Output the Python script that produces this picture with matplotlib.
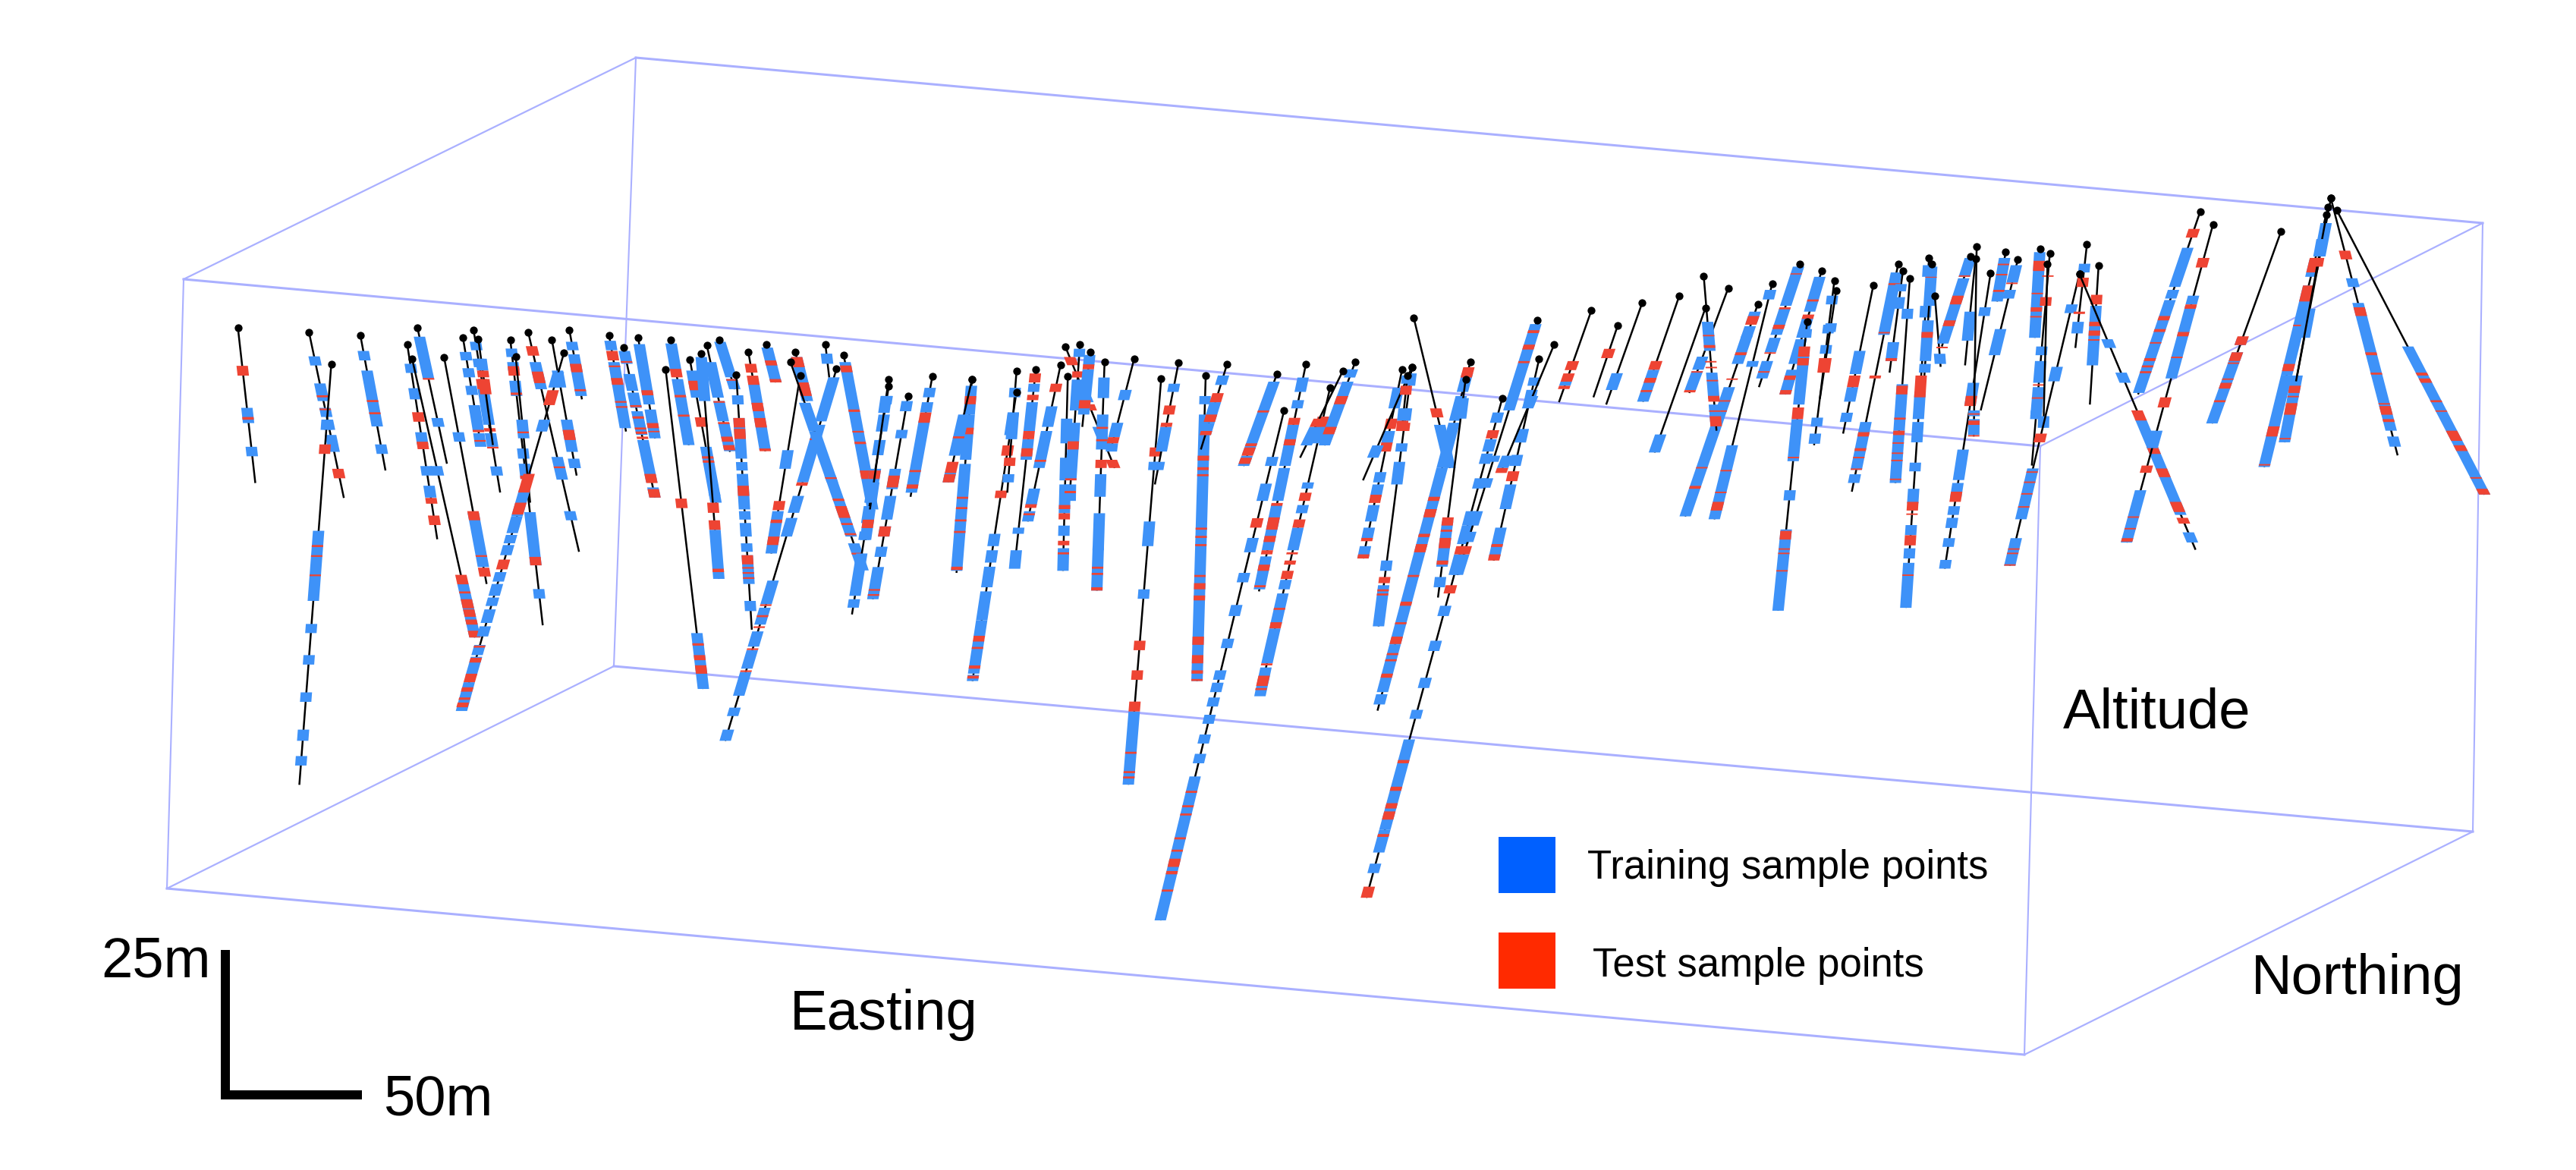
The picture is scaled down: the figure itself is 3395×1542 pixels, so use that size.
import matplotlib
matplotlib.use('Agg')
import matplotlib.pyplot as plt
import numpy as np

plt.rcParams['font.family'] = ['Liberation Sans', 'DejaVu Sans']

# box edges, picture pixels (front/back, top/bottom, left/right)
box_ftl = (242, 368)
box_btl = (838, 76)
box_ftr = (2689, 588)
box_btr = (3272, 294)
box_fbl = (220, 1171)
box_bbl = (809, 878)
box_fbr = (2668, 1390)
box_bbr = (3259, 1096)

# drill holes, read off three crops: each group has its own offset and scale
# west part of the picture
west_tops = [(178,183),(325,197),(371,291),(431,205),(549,183),(528,233),(538,275),(604,270),
             (643,212),(665,190),(675,218),(778,197),(741,220),(752,268),(827,220),(863,190),
             (852,257),(945,205),(975,242),(1005,212),(1062,307),(1072,220),(1112,277),(1135,260),
             (1173,220),(1147,235),(1208,322),(1233,256),(1270,233),(1415,305),(1340,325),(1330,255),
             (1320,285),(1430,265),(1523,357),(1563,385),(1523,335),(1392,232)]
west_ends = [(214,642),(397,686),(305,1533),(483,605),(610,585),(590,808),(668,1098),(692,940),
             (680,530),(720,670),(705,530),(883,845),(808,1062),(782,700),(878,620),(889,395),
             (640,1310),(980,490),(1040,685),(1040,510),(1140,1250),(1110,530),(1168,715),(1172,925),
             (1205,365),(1195,550),(1240,1075),(1268,548),(1290,345),(1185,1403),(1280,850),(1355,400),
             (1470,900),(1490,720),(1447,1030),(1490,985),(1475,810),(1400,330)]
west_train = [[(420,465),(535,563)],
              [(268,295),(348,400),(420,447),(455,485),(500,550)],
              [(455,485),(783,990),(1058,1085),(1150,1178),(1260,1288),(1370,1403),(1448,1476)],
              [(252,280),(310,475),(528,556)],
              [(210,335),(450,476)],
              [(290,317),(362,395),(492,528),(592,620),(650,685)],
              [(592,620),(940,1098)],
              [(492,520),(730,890)],
              [(255,280),(303,330),(355,382),(412,490),(495,535)],
              [(225,250),(275,300),(365,470),(495,535),(593,620)],
              [(275,310)],
              [(285,365),(565,632),(725,752)],
              [(245,270),(285,310),(340,385),(540,570),(585,630),(728,885),(955,983)],
              [(455,510)],
              [(310,360),(455,550),(570,598)],
              [(225,250),(262,385)],
              [(315,360),(455,490),(660,740),(740,790),(795,820),(825,855),(905,933),(940,975),(980,1005),
               (1015,1055),(1065,1095),(1120,1150),(1155,1210),(1230,1315)],
              [(222,250),(285,480)],
              [(252,290),(320,370),(375,420),(430,500),(515,640),(655,685)],
              [(232,410),(425,510)],
              [(1085,1250)],
              [(230,310),(335,530)],
              [(310,390),(535,680),(670,700)],
              [(270,400),(780,925)],
              [(225,330),(335,365)],
              [(285,390),(400,460),(465,548)],
              [(383,410),(450,570),(580,605),(615,720),(725,750),(760,800),(820,845),(855,940),(990,1020)],
              [(350,410),(415,545)],
              [(242,345)],
              [(330,460),(470,640),(680,730),(745,800),(930,1000),(1010,1060),(1080,1125),(1135,1190),
               (1200,1270),(1305,1330),(1370,1403)],
              [(545,600),(725,850)],
              [(270,400)],
              [(405,490),(490,640),(620,800),(820,900)],
              [(285,430),(430,720)],
              [(385,410),(440,490),(515,560),(600,700),(710,760),(785,810),(850,975),(985,1010)],
              [(400,430),(485,510),(600,660),(680,750),(770,800),(830,860),(890,985)],
              [(385,435),(640,700),(720,810)],
              [(260,290)]]
west_test = [[(296,325),(447,455)],
             [(383,389),(422,427),(600,628)],
             [(528,556),(825,831),(855,860),(912,917)],
             [(397,403),(433,439)],
             [(332,337)],
             [(433,461),(520,542),(686,703),(738,766)],
             [(913,941),(962,968),(985,1012),(1015,1037),(1045,1060),(1078,1098)],
             [(725,752),(855,860),(892,918)],
             [(485,492),(515,520)],
             [(335,365),(480,490),(535,540)],
             [(310,330),(335,380)],
             [(238,266),(313,347),(593,598)],
             [(297,325),(375,382),(620,630),(860,885)],
             [(490,495)],
             [(485,515)],
             [(290,315),(365,371)],
             [(368,412),(615,670),(700,735),(868,897),(1122,1128),(1158,1172),(1205,1230),(1245,1258),(1275,1282),(1290,1304)],
             [(252,280),(295,300),(332,352),(400,405),(415,420)],
             [(282,287),(412,418),(445,452),(478,484),(490,497),(505,512),(615,642),(660,685)],
             [(368,383),(465,480),(488,492)],
             [(688,716),(1115,1122),(1150,1165),(1180,1205)],
             [(305,330),(382,389),(440,446)],
             [(340,368),(448,476),(563,570),(575,582)],
             [(700,730),(752,780),(895,905)],
             [(335,340)],
             [(400,405),(462,468),(505,520),(530,545)],
             [(450,478),(482,512),(650,680),(855,882),(890,895),(905,910),(920,925)],
             [(290,316),(325,352),(405,430),(450,478),(540,548)],
             [(280,295),(335,345)],
             [(510,515),(640,650),(1000,1005),(1032,1038),(1065,1070),(1130,1135),(1195,1200)],
             [(695,722),(750,760),(800,825)],
             [(270,300),(345,385)],
             [(625,630),(688,695),(710,745),(760,766),(790,796),(848,853)],
             [(295,315),(425,432),(488,493),(520,527),(605,630)],
             [(605,630)],
             [(620,655),(770,800),(955,960),(970,975)],
             [(750,775)],
             []]

# middle part
mid_tops = [(45,178),(127,185),(127,185),(219,215),(219,165),(259,160),(310,150),(325,178),
            (320,105),(350,100),(371,118),(401,142),(462,135),(518,183),(554,143),(610,175),
            (654,148),(757,172),(772,260),(817,148),(867,205),(919,142),(893,165),(1157,142),
            (1036,155),(1016,160),(1036,155),(1027,175),(1040,35),(1147,185),(1223,230),(1299,135),
            (1330,100),(1295,40),(1407,17)]
mid_ends = [(0,470),(95,655),(78,435),(128,918),(200,460),(215,640),(242,530),(315,650),
            (422,400),(330,450),(355,300),(385,698),(415,350),(450,1170),(505,440),(592,918),
            (600,355),(688,395),(516,1500),(720,700),(722,950),(855,345),(805,375),(965,990),
            (967,785),(935,620),(935,430),(1015,310),(1115,400),(1090,715),(942,1445),(1205,625),
            (1220,410),(1130,660),(1340,240)]
mid_train = [[(205,228),(240,265),(285,460)],
             [(200,270),(270,380),(390,650)],
             [(270,370),(410,435)],
             [(265,320),(560,590),(600,630),(640,690),(700,770),(770,810),(820,900),(903,918)],
             [(205,228),(265,330),(415,435)],
             [(195,215),(240,310),(330,380),(545,560),(600,645)],
             [(250,300),(310,400),(450,490),(505,530)],
             [(280,340),(375,430),(440,510),(540,565),(595,650)],
             [(215,240),(300,350)],
             [(110,130),(185,260),(290,345),(345,430),(440,480)],
             [(125,150),(160,270)],
             [(180,230),(270,355),(415,470),(510,600),(590,698)],
             [(210,235),(290,325),(340,360)],
             [(385,405),(530,590),(695,718),(992,1170)],
             [(195,215),(300,360),(385,405)],
             [(225,245),(270,918)],
             [(175,198),(240,290),(290,320)],
             [(190,365),(370,395)],
             [(373,395),(438,480),(570,605),(655,678),(733,760),(815,838),(892,915),(922,945),(958,980),
              (1000,1022),(1048,1070),(1095,1118),(1150,1500)],
             [(180,215),(235,255),(295,395),(400,480),(490,600),(615,695)],
             [(275,340),(435,450),(490,510),(545,600),(672,695),(705,780),(790,875),(885,955)],
             [(160,180),(190,345)],
             [(300,345)],
             [(170,215),(225,285),(290,400),(400,600),(600,830),(830,945),(950,975)],
             [(170,200),(255,285),(340,360),(385,440),(625,650),(685,785)],
             [(205,255),(310,340),(410,435),(440,470),(490,530),(545,575),(590,620)],
             [(345,375)],
             [(175,195),(255,285)],
             [(295,400)],
             [(230,280),(530,640),(665,690)],
             [(265,290),(330,360),(365,390),(425,450),(505,540),(540,585),(610,660),(735,760),(820,845),
              (910,935),(988,1010),(1060,1280),(1280,1335),(1362,1385)],
             [(180,200),(210,250),(305,338),(368,395),(440,500),(545,620)],
             [(225,255),(370,400)],
             [(50,260),(370,385),(425,448),(505,540),(555,580),(610,660)],
             [(190,200)]]
mid_test = [[(265,290),(405,410),(440,450)],
            [(225,245),(302,318),(470,475),(495,500),(525,530),(553,558),(640,648)],
            [(323,328),(385,412),(415,435)],
            [(345,370),(455,473),(808,822),(835,840),(880,888),(905,912)],
            [(375,395)],
            [(170,192),(222,235),(310,330),(352,372)],
            [(195,215),(380,385),(488,497),(510,515)],
            [(490,500),(510,525),(577,588),(605,610)],
            [(130,150),(245,260),(380,400)],
            [(165,180),(335,355),(425,430),(455,462)],
            [(148,160),(235,255)],
            [(300,305),(330,335),(380,400),(640,645),(655,660),(690,698)],
            [(325,340)],
            [(350,372),(820,843),(892,915),(968,992),(1090,1095),(1137,1142),(1150,1155)],
            [(248,270),(290,300)],
            [(370,382),(398,405),(415,420),(545,550),(565,570),(585,590),(660,665),(680,695),(710,722),
             (810,830),(855,875),(892,900),(913,918)],
            [(218,240),(270,288),(310,320)],
            [(260,265),(340,347),(350,370),(375,390)],
            [(522,545),(1185,1190),(1220,1225),(1240,1245),(1298,1303),(1328,1333),(1350,1370),(1380,1388),(1425,1430)],
            [(278,295),(330,345),(485,492),(520,550),(565,580),(600,610),(635,650),(685,690)],
            [(275,300),(460,480),(525,545),(605,610),(625,635),(650,670),(740,745),(775,790),(875,880),(905,930),(935,940)],
            [(225,245),(300,318)],
            [(280,300)],
            [(155,180),(470,480),(500,520),(560,568),(585,605),(660,665),(725,735),(775,780),(810,828),(850,855),(865,870),(900,910)],
            [(290,310),(665,680),(695,700),(705,710)],
            [(280,305),(338,360),(465,485),(570,578),(610,620)],
            [],
            [(200,222),(285,310)],
            [(255,277)],
            [(520,540),(550,555),(570,595),(625,635)],
            [(308,328),(590,610),(685,705),(1110,1118),(1175,1185),(1215,1228),(1235,1255),(1290,1297),(1418,1445)],
            [(408,432),(585,592),(610,625)],
            [(400,412)],
            [(65,72),(100,112),(140,145),(590,610)],
            [(140,162),(170,190),(200,208)]]

# east part
east_tops = [(42,467),(84,390),(148,365),(193,407),(283,395),(308,323),(232,340),(190,297),
             (355,255),(393,280),(415,313),(368,455),(418,348),(482,330),(525,255),(533,280),
             (545,305),(578,235),(583,255),(588,365),(650,230),(658,238),(684,288),(660,195),
             (710,215),(731,240),(769,205),(786,220),(782,255),(837,290),(850,187),(870,262),
             (837,290),(1045,75),(1067,120),(1184,145),(1262,85),(1270,30),(1265,60),(1270,30),(1280,70)]
east_ends = [(0,715),(22,740),(85,730),(105,905),(158,1125),(208,1135),(165,700),(212,830),
             (285,680),(330,705),(380,880),(318,1450),(390,720),(430,840),(445,1040),(510,630),
             (520,1010),(538,1440),(570,640),(598,610),(600,540),(640,605),(605,1305),(655,850),
             (695,385),(667,760),(760,510),(755,950),(775,820),(717,1295),(830,545),(855,740),
             (1037,1240),(938,705),(918,1215),(1065,805),(1155,955),(1190,870),(1210,660),(1385,915),(1535,1050)]
east_train = [[],
              [(632,690)],
              [(620,730)],
              [(843,905)],
              [(420,460),(470,510),(500,600),(680,1125)],
              [(345,378),(590,610),(880,1135)],
              [(575,620),(625,690)],
              [(455,555),(630,720),(740,800)],
              [(265,400),(410,500),(510,560),(590,650)],
              [(300,420),(440,510),(515,600),(620,705)],
              [(365,395),(465,495),(535,565),(785,815),(840,875)],
              [(480,510),(570,740),(790,935),(1035,1070),(1170,1450)],
              [(460,490)],
              [(555,635),(680,730),(768,800)],
              [(285,500),(800,965),(980,1010)],
              [(325,350),(370,410),(525,590)],
              [(410,445),(670,830),(830,1010)],
              [(260,300),(400,440),(695,790),(800,870),(940,970),(1030,1080),(1155,1190),(1235,1270),(1285,1440)],
              [(265,400),(450,590),(600,630)],
              [(565,600)],
              [(235,300),(305,530)],
              [(420,520)],
              [(405,435),(665,740),(895,1000),(1010,1060),(1090,1120),(1130,1165),(1200,1230),(1275,1305)],
              [(760,780),(790,845)],
              [(235,385)],
              [(260,320),(345,375),(480,570)],
              [(215,510)],
              [(540,570),(590,665),(680,780),(760,790)],
              [(780,820)],
              [(395,425),(610,660),(960,1135),(1200,1295)],
              [(255,285),(455,495)],
              [(400,605)],
              [(515,545),(630,665),(790,1120),(1180,1215)],
              [(200,335),(345,375),(380,700)],
              [(365,395),(400,650),(830,890),(1035,1215)],
              [(510,535),(560,805)],
              [(240,300),(330,640),(640,955)],
              [(115,230),(410,510),(640,870)],
              [(170,230)],
              [(305,335),(390,830),(850,885)],
              [(540,1050)]]
east_test = [[(548,580)],
             [],
             [(590,620),(648,665),(690,697)],
             [],
             [(435,465),(560,570),(650,655),(725,730),(760,765),(955,960),(1020,1030)],
             [(965,970),(1040,1045),(1075,1105)],
             [(625,630),(690,698)],
             [(500,505),(535,545),(590,595),(610,615),(655,660),(710,730),(760,765),(780,815)],
             [(288,292),(405,412),(465,480),(560,565),(625,630)],
             [(378,385),(430,445),(640,655),(690,705)],
             [(580,630)],
             [(540,575),(580,605),(750,790),(920,925),(1175,1205),(1235,1240),(1250,1255),(1310,1315)],
             [(580,630)],
             [(640,680)],
             [(322,328),(490,495),(640,650),(835,850),(890,900),(920,925),(960,965)],
             [(580,590)],
             [(675,705),(785,792),(830,845),(870,875),(905,910),(930,935),(995,1000)],
             [(640,715),(1075,1105),(1115,1120),(1190,1225),(1325,1330)],
             [(300,303),(490,510)],
             [],
             [(295,300),(365,395),(450,470),(540,545)],
             [],
             [(710,745),(1040,1075)],
             [(770,775),(795,810),(845,850)],
             [(255,260),(290,295),(345,352)],
             [(320,325)],
             [(245,280),(355,360),(405,420),(435,440)],
             [(295,300),(370,400),(670,675),(715,720)],
             [],
             [(840,870),(970,975),(1005,1010),(1045,1050),(1090,1095),(1235,1240),(1250,1255),(1290,1295)],
             [(303,335),(420,428)],
             [(362,395),(455,470),(485,503),(515,520)],
             [(760,795),(885,910),(960,990),(1075,1110),(1130,1150)],
             [(135,165),(435,450),(480,490),(525,530),(580,590),(605,612),(625,632)],
             [(235,268),(395,410),(490,505),(575,580),(715,750),(950,975),(1125,1130),(1165,1170),(1200,1212)],
             [(505,535),(560,590),(595,600),(650,655),(665,685),(725,732)],
             [(235,285),(330,385),(465,470),(600,625),(815,850),(945,950)],
             [(675,700),(710,715),(735,755),(755,775),(855,860)],
             [(235,265)],
             [(210,240),(405,435),(560,570),(630,637),(735,740),(745,775),(790,800)],
             [(630,640),(650,665),(725,732),(760,765),(830,865),(880,900),(990,995),(1030,1050)]]

# crop origin and crop scale of each group
groups = [(west_tops, west_ends, west_train, west_test, 200, 350, 1.568, 2.24),
          (mid_tops, mid_ends, mid_train, mid_test, 1200, 400, 1.568, 1.845),
          (east_tops, east_ends, east_train, east_test, 2100, 250, 1.3067, 2.613)]

train_color = '#3e92f8'
test_color = '#ee4433'
frame_color = '#aab0ff'
half_w = 7.5

fig = plt.figure(figsize=(33.95, 15.42), dpi=100)
ax = fig.add_axes([0, 0, 1, 1])
ax.set_xlim(0, 3395)
ax.set_ylim(1542, 0)
ax.axis('off')


def edge(p, q, lw):
    ax.plot([p[0], q[0]], [p[1], q[1]], color=frame_color, lw=lw, zorder=1)


# box
for p, q in [(box_ftl, box_ftr), (box_fbl, box_fbr), (box_btl, box_btr), (box_bbl, box_bbr)]:
    edge(p, q, 2.2)
for p, q in [(box_ftl, box_btl), (box_ftr, box_btr), (box_fbl, box_bbl), (box_fbr, box_bbr)]:
    edge(p, q, 1.6)
for p, q in [(box_ftl, box_fbl), (box_btl, box_bbl), (box_ftr, box_fbr), (box_btr, box_bbr)]:
    edge(p, q, 1.5)


def run(ya, yb, xs, ys, y0, sy, color, z):
    # one stretch of a hole, flat top and bottom like the stacked sample cubes
    a = y0 + ya / sy
    b = y0 + yb / sy
    xa = np.interp(a, ys, xs)
    xb = np.interp(b, ys, xs)
    ax.fill([xa - half_w, xa + half_w, xb + half_w, xb - half_w], [a, a, b, b],
            color=color, lw=0, zorder=z)


collar_x, collar_y = [], []
z = 2.0
for tops, ends, train, test, x0, y0, sx, sy in groups:
    assert len(tops) == len(ends) == len(train) == len(test)
    for top, end, tr, te in zip(tops, ends, train, test):
        xs = [x0 + top[0] / sx, x0 + end[0] / sx]
        ys = [y0 + top[1] / sy, y0 + end[1] / sy]
        ax.plot(xs, ys, color='black', lw=1.8, zorder=z, solid_capstyle='butt')
        for ya, yb in tr:
            run(ya, yb, xs, ys, y0, sy, train_color, z)
        for ya, yb in te:
            run(ya, yb, xs, ys, y0, sy, test_color, z)
        collar_x.append(xs[0])
        collar_y.append(ys[0])
        z += 0.01

ax.scatter(collar_x, collar_y, s=55, color='black', lw=0, zorder=z + 1)

# scale bar
ax.fill([291, 303, 303, 291], [1252, 1252, 1449, 1449], color='black', lw=0, zorder=z)
ax.fill([291, 477, 477, 291], [1437, 1437, 1449, 1449], color='black', lw=0, zorder=z)

big = 53.5
ax.text(133, 1287, '25m', fontsize=big, ha='left', va='baseline')
ax.text(505, 1469, '50m', fontsize=big, ha='left', va='baseline')
ax.text(1041, 1357, 'Easting', fontsize=big, ha='left', va='baseline')
ax.text(2719, 960, 'Altitude', fontsize=big, ha='left', va='baseline')
ax.text(2967, 1310, 'Northing', fontsize=big, ha='left', va='baseline')

# legend, drawn by hand as in the original
ax.fill([1975, 2050, 2050, 1975], [1103, 1103, 1177, 1177], color='#0060ff', lw=0, zorder=z)
ax.fill([1975, 2050, 2050, 1975], [1229, 1229, 1303, 1303], color='#ff2a00', lw=0, zorder=z)
ax.text(2092, 1158, 'Training sample points', fontsize=38, ha='left', va='baseline')
ax.text(2099, 1287, 'Test sample points', fontsize=38, ha='left', va='baseline')

fig.savefig('out.png', dpi=100)
